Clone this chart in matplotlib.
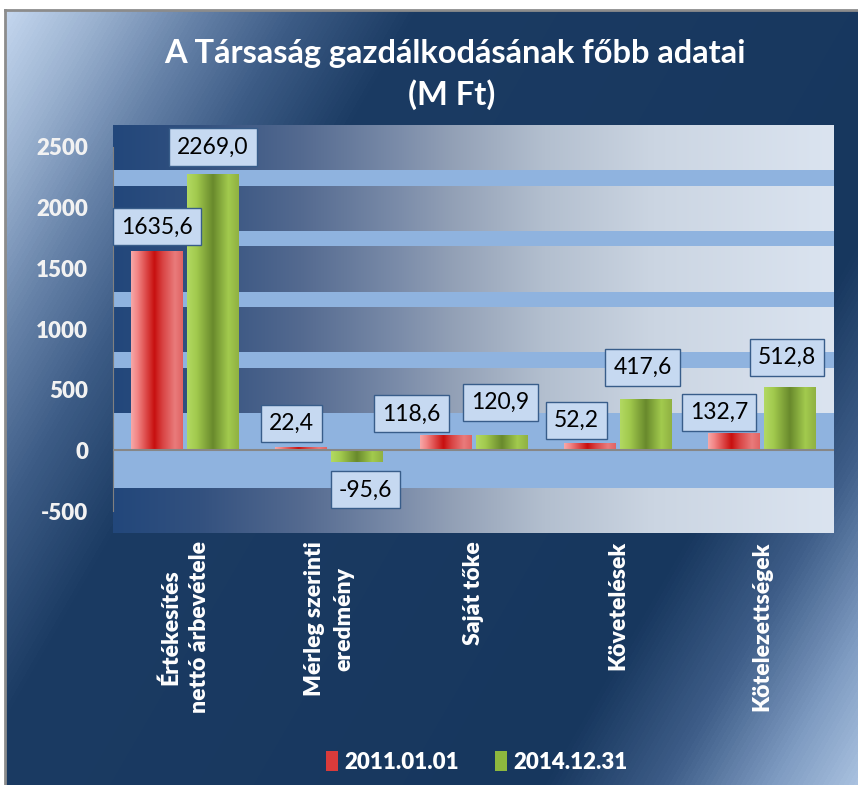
import matplotlib.pyplot as plt
import numpy as np
from matplotlib.colors import LinearSegmentedColormap

categories = ["Értékesítés\nnettó árbevétele", "Mérleg szerinti\neredmény",
              "Saját tőke", "Követelések", "Kötelezettségek"]
series_names = ["2011.01.01", "2014.12.31"]
values_2011 = [1635.6, 22.4, 118.6, 52.2, 132.7]
values_2014 = [2269.0, -95.6, 120.9, 417.6, 512.8]
yticks = [-500, 0, 500, 1000, 1500, 2000, 2500]

# where the value boxes sit relative to the bar end (pixels), like in the excel chart
off_2011 = [(0, 25), (-10, 24), (-34, 22), (-13, 24), (-15, 22)]
off_2014 = [(0, 28), (8, -28), (-1, 33), (-3, 32), (-3, 31)]

# light stripes of the plot area fill
bands = [(2180, 2310), (1680, 1805), (1180, 1302), (676, 808), (-313, 305)]

W, H = 858, 785
plt.rcParams['font.family'] = ['Lato', 'DejaVu Sans']
fig = plt.figure(figsize=(W / 100, H / 100), dpi=100)

# outer chart area: diagonal gradient
bg = fig.add_axes([5 / W, 0, 1 - 5 / W, 1 - 10 / H])
xx, yy = np.meshgrid(np.arange(5, W), np.arange(10, H))
u = xx + 0.58 * yy
umax = W + 0.58 * H
stops = [(0, '#c9dbf2'), (100, '#9cb3d1'), (200, '#6783a9'), (300, '#3d5c86'),
         (420, '#1b3b63'), (1000, '#17375e'), (1120, '#3e5d88'), (1230, '#7f9cc2'),
         (umax, '#a9c1df')]
cmap_bg = LinearSegmentedColormap.from_list('bg', [(s / umax, c) for s, c in stops])
bg.imshow(u, cmap=cmap_bg, vmin=0, vmax=umax, aspect='auto', interpolation='bilinear')
bg.set_xticks([])
bg.set_yticks([])
bg.spines['right'].set_visible(False)
bg.spines['bottom'].set_visible(False)
bg.spines['top'].set_color('#8c8c8c')
bg.spines['left'].set_color('#8c8c8c')
bg.spines['top'].set_linewidth(2)
bg.spines['left'].set_linewidth(2)

# plot area
ax = fig.add_axes([113 / W, 1 - 533 / H, (834 - 113) / W, (533 - 125) / H])
ylim = (-681, 2681)
cmap_plot = LinearSegmentedColormap.from_list('pl', [
    (0, '#22477b'), (0.12, '#33517f'), (0.26, '#546a90'), (0.40, '#7c8daa'),
    (0.47, '#92a0b6'), (0.6, '#b3bfcf'), (0.75, '#cbd5e2'), (1, '#dbe4f0')])
ax.imshow(np.linspace(0, 1, 256)[None, :], extent=(-0.5, 4.5, ylim[0], ylim[1]),
          aspect='auto', cmap=cmap_plot, zorder=0)
for lo, hi in bands:
    ax.axhspan(lo, hi, color='#8fb3df', lw=0, zorder=1)

x = np.arange(len(categories))
w = 0.36
b1 = ax.bar(x - 0.194, values_2011, w, color='#d93b3b', lw=0, zorder=3)
b2 = ax.bar(x + 0.194, values_2014, w, color='#8db83e', lw=0, zorder=3)

cmap_red = LinearSegmentedColormap.from_list('r', [
    (0, '#f6a8a8'), (0.12, '#f28585'), (0.45, '#c8100f'), (0.62, '#d94545'),
    (0.85, '#e97b7b'), (1, '#e06464')])
cmap_green = LinearSegmentedColormap.from_list('g', [
    (0, '#b2d962'), (0.18, '#a2ca4e'), (0.5, '#68892c'), (0.8, '#a2ca4e'), (1, '#90b142')])
grad = np.linspace(0, 1, 128)[None, :]
for bars, cm in [(b1, cmap_red), (b2, cmap_green)]:
    for p in bars:
        x0, y0 = p.get_x(), p.get_y()
        ax.imshow(grad, extent=(x0, x0 + p.get_width(), y0, y0 + p.get_height()),
                  aspect='auto', cmap=cm, zorder=4)

ax.axhline(0, color='#878787', lw=1.5, zorder=5)

for bars, vals, offs in [(b1, values_2011, off_2011), (b2, values_2014, off_2014)]:
    for p, v, off in zip(bars, vals, offs):
        ax.annotate(f"{v:.1f}".replace('.', ','), xy=(p.get_x() + p.get_width() / 2, v),
                    xytext=off, textcoords='offset pixels', ha='center', va='center',
                    fontsize=16.5, color='black', zorder=6,
                    bbox=dict(boxstyle='square,pad=0.35', fc='#c6d9f1', ec='#385d8a', lw=1))

ax.set_xlim(-0.5, 4.5)
ax.set_ylim(*ylim)
ax.set_yticks(yticks)
ax.set_yticklabels([str(t) for t in yticks], fontsize=16, fontweight=800, color='#f2f2f2')
ax.set_xticks(x)
ax.set_xticklabels(categories, rotation=90, ha='center', va='top', multialignment='center',
                   fontsize=16.5, fontweight=800, color='white', linespacing=1.45)
ax.tick_params(axis='y', length=0, pad=18)
ax.tick_params(axis='x', length=0, pad=6)
for s in ['top', 'right', 'bottom']:
    ax.spines[s].set_visible(False)
ax.spines['left'].set_bounds(-500, 2500)
ax.spines['left'].set_color('#808080')

fig.text(455 / W, 1 - 54 / H, "A Társaság gazdálkodásának főbb adatai", ha='center', va='center',
         fontsize=23.5, fontweight='bold', color='white')
fig.text(452 / W, 1 - 95 / H, "(M Ft)", ha='center', va='center',
         fontsize=23.5, fontweight='bold', color='white')

fig.legend([b1, b2], series_names, loc='center', bbox_to_anchor=(477 / W, 1 - 762 / H), ncol=2,
           frameon=False, labelcolor='white', prop=dict(weight=800, size=16),
           handlelength=0.55, handleheight=1.0, handletextpad=0.3, columnspacing=1.6)

fig.savefig('out.png', dpi=100)
